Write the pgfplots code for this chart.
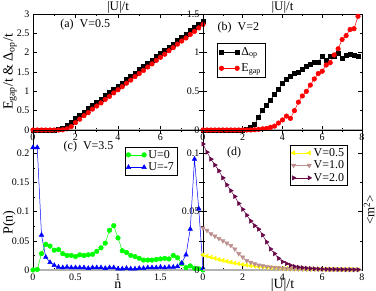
\documentclass[border=0pt]{standalone}
\usepackage{fontspec}
\setmainfont{Liberation Serif}
\usepackage{pgfplots}
\pgfplotsset{compat=1.18}
\definecolor{maroonx}{RGB}{103,7,72}
\definecolor{rbrown}{RGB}{188,143,143}
\definecolor{grn}{RGB}{0,255,0}
\definecolor{ylw}{RGB}{255,255,0}
\begin{document}
\begin{tikzpicture}
\pgfplotsset{
  panel/.style={scale only axis, anchor=south west, clip=false,
    tick align=inside, major tick length=4pt, minor tick length=2pt,
    every tick/.style={black, line width=0.5pt},
    axis line style={line width=0.6pt},
    scaled ticks=false,
    /pgf/number format/assume math mode=true,
    tick label style={font=\fontsize{10}{11}\selectfont},
    label style={font=\fontsize{14}{16}\selectfont},
    legend style={font=\fontsize{12}{13}\selectfont, draw=black, inner sep=1pt, row sep=-1pt, cells={anchor=west}},
    legend image code/.code={\draw[##1] plot coordinates {(0cm,0cm) (0.55cm,0cm)};},
    every axis plot/.append style={line width=0.5pt},
  },
}
% ---------------- (a)
\begin{axis}[panel, at={(33pt,161pt)}, width=170pt, height=116pt,
  xmin=0, xmax=8, ymin=0, ymax=3,
  xtick={0,2,4,6,8}, xticklabels={0,2,4,6,{}}, minor x tick num=1,
  ytick={0,0.5,1,1.5,2,2.5,3}, yticklabels={0,0.5,1,1.5,2,2.5,3},
  xlabel={|U|/t},
  xlabel style={at={(axis description cs:0.5,1)}, anchor=south, inner sep=0pt, yshift=0.5pt, font=\fontsize{13}{14}\selectfont},
  ylabel={E\textsubscript{gap}/t \& Δ\textsubscript{op}/t},
  ylabel style={at={(axis description cs:-0.135,0.5)}, anchor=center},
]
\draw[gray!60, line width=1.2pt] (axis cs:0,0) -- (axis cs:8,0);
\addplot[black, mark=square*, mark size=2pt] table {
0 0
0.2 0
0.4 0
0.6 0
0.8 0
1.0 0
1.2 0.01
1.4 0.04
1.6 0.11
1.8 0.20
2.0 0.30
2.2 0.38
2.4 0.47
2.6 0.55
2.8 0.64
3.0 0.72
3.2 0.80
3.4 0.89
3.6 0.97
3.8 1.06
4.0 1.14
4.2 1.22
4.4 1.31
4.6 1.39
4.8 1.48
5.0 1.56
5.2 1.64
5.4 1.73
5.6 1.81
5.8 1.90
6.0 1.98
6.2 2.06
6.4 2.15
6.6 2.23
6.8 2.32
7.0 2.40
7.2 2.48
7.4 2.57
7.6 2.65
7.8 2.74
8.0 2.82
};
\addplot[red, mark=*, mark size=2.3pt] table {
0 0
0.2 0
0.4 0
0.6 0
0.8 0
1.0 0
1.2 0
1.4 0.005
1.6 0.03
1.8 0.09
2.0 0.19
2.2 0.28
2.4 0.37
2.6 0.45
2.8 0.54
3.0 0.62
3.2 0.70
3.4 0.79
3.6 0.87
3.8 0.96
4.0 1.04
4.2 1.12
4.4 1.21
4.6 1.29
4.8 1.38
5.0 1.46
5.2 1.54
5.4 1.63
5.6 1.71
5.8 1.80
6.0 1.88
6.2 1.96
6.4 2.05
6.6 2.13
6.8 2.22
7.0 2.30
7.2 2.38
7.4 2.47
7.6 2.55
7.8 2.64
8.0 2.73
};
\node[anchor=west, font=\fontsize{12}{13}\selectfont] at (rel axis cs:0.14,0.905) {(a)\ \ V=0.5};
\end{axis}
% ---------------- (b)
\begin{axis}[panel, at={(203pt,161pt)}, width=159pt, height=116pt,
  xmin=0, xmax=8, ymin=0, ymax=1.5,
  xtick={0,2,4,6,8}, minor x tick num=1,
  ytick={0,0.5,1,1.5}, yticklabels={0,0.5,1,1.5}, minor y tick num=1,
  xlabel={|U|/t},
  xlabel style={at={(axis description cs:0.5,1)}, anchor=south, inner sep=0pt, yshift=0.5pt, font=\fontsize{13}{14}\selectfont},
  legend style={at={(rel axis cs:0.088,0.75)}, anchor=north west, row sep=3pt, inner sep=2pt},
]
\draw[gray!60, line width=1.2pt] (axis cs:0,0) -- (axis cs:8,0);
\addplot[black, mark=square*, mark size=2pt] table {
0 0
0.2 0
0.4 0
0.6 0
0.8 0
1.0 0
1.2 0
1.4 0
1.6 0
1.8 0
2.0 0
2.2 0.005
2.4 0.03
2.6 0.07
2.8 0.17
3.0 0.26
3.2 0.32
3.4 0.39
3.6 0.46
3.8 0.53
4.0 0.60
4.2 0.66
4.4 0.70
4.6 0.73
4.8 0.75
5.0 0.78
5.2 0.82
5.4 0.85
5.6 0.87
5.8 0.88
6.0 0.95
6.2 0.90
6.4 0.96
6.6 0.95
6.8 0.99
7.0 0.93
7.2 0.97
7.4 0.98
7.6 0.97
7.8 0.96
};
\addlegendentry{Δ\textsubscript{op}}
\addplot[red, mark=*, mark size=2.3pt] table {
0 0
0.2 0
0.4 0
0.6 0
0.8 0
1.0 0
1.2 0
1.4 0
1.6 0
1.8 0
2.0 0
2.2 0
2.4 0
2.6 0.003
2.8 0.008
3.0 0.015
3.2 0.02
3.4 0.035
3.6 0.05
3.8 0.09
4.0 0.13
4.2 0.18
4.4 0.15
4.6 0.25
4.8 0.36
5.0 0.44
5.2 0.50
5.4 0.58
5.6 0.66
5.8 0.73
6.0 0.76
6.2 0.84
6.4 0.87
6.6 0.97
6.8 1.05
7.0 1.17
7.2 1.22
7.4 1.30
7.6 1.31
7.8 1.47
};
\addlegendentry{E\textsubscript{gap}}
\node[anchor=west, font=\fontsize{12}{13}\selectfont] at (rel axis cs:0.07,0.88) {(b)\ \ V=2};
\end{axis}
% ---------------- (c)
\begin{axis}[panel, at={(33pt,21pt)}, width=170pt, height=140pt,
  xmin=0, xmax=2, ymin=0, ymax=0.24,
  xtick={0,0.5,1,1.5,2}, xticklabels={0,0.5,1,1.5,{}}, minor x tick num=1,
  ytick={0,0.05,0.1,0.15,0.2}, yticklabels={0,0.05,0.1,0.15,0.2}, minor y tick num=1,
  xlabel={n},
  xlabel style={at={(axis description cs:0.5,0)}, anchor=base, yshift=-19pt},
  ylabel={P(n)},
  ylabel style={at={(axis description cs:-0.14,0.34)}, anchor=center},
  legend style={at={(rel axis cs:0.541,0.879)}, anchor=north west},
]
\draw[gray!60, line width=1.2pt] (axis cs:0,0) -- (axis cs:2,0);
\addplot[grn, mark=*, mark size=2.3pt] table {
0 0
0.05 0.001
0.1 0.028
0.15 0.044
0.2 0.041
0.25 0.034
0.3 0.035
0.35 0.028
0.4 0.025
0.45 0.025
0.5 0.023
0.55 0.026
0.6 0.025
0.65 0.026
0.7 0.027
0.75 0.032
0.8 0.038
0.85 0.046
0.9 0.068
0.95 0.076
1.0 0.055
1.05 0.033
1.1 0.030
1.15 0.025
1.2 0.023
1.25 0.020
1.3 0.017
1.35 0.017
1.4 0.017
1.45 0.018
1.5 0.019
1.55 0.020
1.6 0.019
1.65 0.025
1.7 0.021
1.75 0.011
1.8 0.004
1.85 0.007
1.9 0.003
1.95 0.002
2.0 0
};
\addlegendentry{U=0}
\addplot[blue, mark=triangle*, mark size=2.6pt] table {
0 0.21
0.05 0.21
0.1 0.06
0.15 0.022
0.2 0.013
0.25 0.008
0.3 0.005
0.35 0.004
0.4 0.005
0.45 0.004
0.5 0.004
0.55 0.004
0.6 0.004
0.65 0.003
0.7 0.004
0.75 0.004
0.8 0.004
0.85 0.003
0.9 0.004
0.95 0.004
1.0 0.002
1.05 0.002
1.1 0.003
1.15 0.002
1.2 0.002
1.25 0.003
1.3 0.003
1.35 0.004
1.4 0.004
1.45 0.004
1.5 0.005
1.55 0.004
1.6 0.005
1.65 0.005
1.7 0.006
1.75 0.012
1.8 0.026
1.85 0.07
1.9 0.19
1.95 0.105
2.0 0.003
};
\addlegendentry{U=-7}
\node[anchor=west, font=\fontsize{12}{13}\selectfont] at (rel axis cs:0.16,0.88) {(c)\ \ V=3.5};
\end{axis}
% ---------------- (d)
\begin{axis}[panel, at={(203pt,21pt)}, width=159pt, height=140pt,
  xmin=0, xmax=8, ymin=0, ymax=0.12,
  xtick={0,2,4,6,8}, minor x tick num=1,
  ytick={0,0.05,0.1}, yticklabels={0,0.05,0.1}, minor y tick num=1,
  xlabel={|U|/t},
  xlabel style={at={(axis description cs:0.5,0)}, anchor=base, yshift=-19pt},
  legend style={at={(rel axis cs:0.547,0.893)}, anchor=north west},
]
\draw[gray!60, line width=1.2pt] (axis cs:0,0) -- (axis cs:8,0);
\addplot[ylw, mark=triangle*, mark size=2.4pt, mark options={rotate=90}] table {
0 0.013
0.2 0.012
0.4 0.011
0.6 0.010
0.8 0.009
1.0 0.0082
1.2 0.0074
1.4 0.0066
1.6 0.0059
1.8 0.0053
2.0 0.0047
2.2 0.0042
2.4 0.0037
2.6 0.0033
2.8 0.0029
3.0 0.0026
3.2 0.0023
3.4 0.0020
3.6 0.0018
3.8 0.0016
4.0 0.0014
4.2 0.0013
4.4 0.0012
4.6 0.0011
4.8 0.0010
5.0 0.0009
5.2 0.0008
5.4 0.0008
5.6 0.0007
5.8 0.0007
6.0 0.0006
6.2 0.0006
6.4 0.0005
6.6 0.0005
6.8 0.0005
7.0 0.0004
7.2 0.0004
7.4 0.0004
7.6 0.0003
7.8 0.0003
};
\addlegendentry{V=0.5}
\addplot[rbrown, mark=triangle*, mark size=2.4pt, mark options={rotate=180}] table {
0 0.036
0.2 0.034
0.4 0.031
0.6 0.029
0.8 0.027
1.0 0.025
1.2 0.023
1.4 0.021
1.6 0.018
1.8 0.014
2.0 0.011
2.2 0.008
2.4 0.0065
2.6 0.0052
2.8 0.0043
3.0 0.0036
3.2 0.0030
3.4 0.0025
3.6 0.0021
3.8 0.0018
4.0 0.0015
4.2 0.0013
4.4 0.0011
4.6 0.0010
4.8 0.0009
5.0 0.0008
5.2 0.0008
5.4 0.0007
5.6 0.0007
5.8 0.0006
6.0 0.0006
6.2 0.0005
6.4 0.0005
6.6 0.0005
6.8 0.0004
7.0 0.0004
7.2 0.0004
7.4 0.0003
7.6 0.0003
7.8 0.0003
};
\addlegendentry{V=1.0}
\addplot[maroonx, mark=triangle*, mark size=2.4pt, mark options={rotate=-90}] table {
0 0.108
0.2 0.101
0.4 0.095
0.6 0.090
0.8 0.085
1.0 0.079
1.2 0.073
1.4 0.068
1.6 0.063
1.8 0.057
2.0 0.052
2.2 0.047
2.4 0.042
2.6 0.038
2.8 0.035
3.0 0.030
3.2 0.024
3.4 0.018
3.6 0.014
3.8 0.010
4.0 0.007
4.2 0.0055
4.4 0.0040
4.6 0.0030
4.8 0.0024
5.0 0.0020
5.2 0.0016
5.4 0.0013
5.6 0.0011
5.8 0.0009
6.0 0.0008
6.2 0.0007
6.4 0.0006
6.6 0.0006
6.8 0.0005
7.0 0.0005
7.2 0.0004
7.4 0.0004
7.6 0.0003
7.8 0.0003
};
\addlegendentry{V=2.0}
\node[anchor=west, font=\fontsize{12}{13}\selectfont] at (rel axis cs:0.13,0.836) {(d)};
\node[rotate=90, inner sep=0pt, font=\fontsize{13}{14}\selectfont] at (rel axis cs:1.045,0.43) {<m\textsuperscript{2}>};
\end{axis}
\pgfresetboundingbox
\path[use as bounding box] (0,0) rectangle (376pt,291pt);
\end{tikzpicture}
\end{document}
